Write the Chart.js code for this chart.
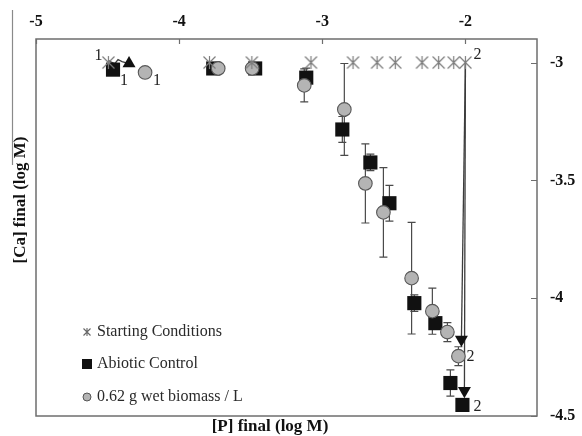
<!DOCTYPE html>
<html>
<head>
<meta charset="utf-8">
<script src="https://cdn.jsdelivr.net/npm/chart.js@4/dist/chart.umd.min.js"></script>
<style>
  html, body { margin: 0; padding: 0; background: #fff; }
  #wrap { width: 582px; height: 436px; position: relative; }
</style>
</head>
<body>
<div id="wrap"><canvas id="c" width="582" height="436"></canvas></div>
<script>
// ---- data: log10 concentrations (mol/L) ----
const startP  = [-4.494, -3.788, -3.492, -3.079, -2.785, -2.617, -2.490, -2.303, -2.187, -2.082, -2.000];
const startCa = [-3.000, -3.000, -3.000, -3.000, -3.000, -3.000, -3.000, -3.000, -3.000, -3.000, -3.000];

const abioticP   = [-4.462, -3.762, -3.469, -3.112, -2.860, -2.664, -2.531, -2.357, -2.210, -2.105, -2.021];
const abioticCa  = [-3.030, -3.025, -3.025, -3.064, -3.284, -3.424, -3.597, -4.021, -4.106, -4.360, -4.453];
const abioticErr = [0, 0, 0, 0.040, 0.055, 0.035, 0.076, 0.035, 0, 0.056, 0];

const bioP   = [-4.238, -3.727, -3.490, -3.126, -2.846, -2.699, -2.573, -2.376, -2.231, -2.126, -2.049];
const bioCa  = [-3.042, -3.025, -3.025, -3.097, -3.199, -3.513, -3.636, -3.915, -4.055, -4.144, -4.246];
const bioErr = [0, 0, 0, 0.070, 0.195, 0.168, 0.190, 0.237, 0.098, 0.040, 0.040];

// trajectories from a starting condition to its end state
const path1P  = [-4.494, -4.483, -4.448, -4.427, -4.399, -4.350];
const path1Ca = [-2.990, -2.996, -3.004, -2.987, -2.996, -3.004];
const path2P  = [-2.000, -2.028];
const path2Ca = [-3.000, -4.175];
const path3P  = [-2.000, -2.007];
const path3Ca = [-3.000, -4.393];

const xTicks = [-5, -4, -3, -2];
const yTicks = [-3, -3.5, -4, -4.5];
const seriesNames = ['Starting Conditions', 'Abiotic Control', '0.62 g wet biomass / L'];
const xTitle = '[P] final (log M)';
const yTitle = '[Ca] final (log M)';

// experiment numbers written next to selected points
const pointNotes = [
  { set: 'start',   i: 0,  text: '1', dx: -10, dy: -7 },
  { set: 'abiotic', i: 0,  text: '1', dx: 11,  dy: 11 },
  { set: 'bio',     i: 0,  text: '1', dx: 12,  dy: 8 },
  { set: 'start',   i: 10, text: '2', dx: 12,  dy: -8 },
  { set: 'bio',     i: 10, text: '2', dx: 12,  dy: 1 },
  { set: 'abiotic', i: 10, text: '2', dx: 15,  dy: 2 }
];

const zip = (xs, ys) => xs.map((v, i) => ({ x: v, y: ys[i] }));
const SERIF = '"Liberation Serif", "Times New Roman", serif';

// six-armed asterisk marker
function makeAsterisk(size, color, lw) {
  const cv = document.createElement('canvas');
  cv.width = size; cv.height = size;
  const g = cv.getContext('2d');
  g.strokeStyle = color; g.lineWidth = lw; g.lineCap = 'butt';
  const m = size / 2, r = size / 2 - 1.5;
  g.beginPath();
  g.moveTo(m - r, m - r); g.lineTo(m + r, m + r);
  g.moveTo(m + r, m - r); g.lineTo(m - r, m + r);
  g.moveTo(m, m - r - 0.5); g.lineTo(m, m + r + 0.5);
  g.stroke();
  return cv;
}
const asterisk = makeAsterisk(15, '#7c7c7c', 1.2);

function pathDataset(P, C, headRotation) {
  return {
    label: '',
    data: zip(P, C),
    showLine: true,
    borderColor: '#3c3c3c',
    borderWidth: 1.3,
    tension: 0,
    pointStyle: 'triangle',
    pointRotation: headRotation,
    pointRadius: P.map((_, i) => (i === P.length - 1 ? 7.5 : 0)),
    pointBackgroundColor: '#111',
    pointBorderColor: '#111',
    pointBorderWidth: 0
  };
}

const errorBars = {
  id: 'errorBars',
  beforeDatasetsDraw(chart) {
    const { ctx, scales: { x, y } } = chart;
    ctx.save();
    ctx.strokeStyle = '#4a4a4a';
    ctx.lineWidth = 1.2;
    const draw = (P, C, E) => {
      P.forEach((p, i) => {
        const e = E[i];
        if (!e) return;
        const px = x.getPixelForValue(p);
        const y1 = y.getPixelForValue(C[i] + e);
        const y2 = y.getPixelForValue(C[i] - e);
        ctx.beginPath();
        ctx.moveTo(px, y1); ctx.lineTo(px, y2);
        ctx.moveTo(px - 4, y1); ctx.lineTo(px + 4, y1);
        ctx.moveTo(px - 4, y2); ctx.lineTo(px + 4, y2);
        ctx.stroke();
      });
    };
    draw(abioticP, abioticCa, abioticErr);
    draw(bioP, bioCa, bioErr);
    ctx.restore();
  }
};

const frameAndText = {
  id: 'frameAndText',
  afterDraw(chart) {
    const { ctx, chartArea: a, scales: { x, y } } = chart;
    ctx.save();
    // plot frame
    ctx.strokeStyle = '#6e6e6e';
    ctx.lineWidth = 1.5;
    ctx.strokeRect(a.left, a.top, a.right - a.left, a.bottom - a.top);
    // inward tick marks on top and right
    ctx.lineWidth = 1.2;
    ctx.beginPath();
    xTicks.forEach(v => {
      const px = Math.round(x.getPixelForValue(v)) + 0.5;
      ctx.moveTo(px, a.top); ctx.lineTo(px, a.top + 5);
    });
    yTicks.forEach(v => {
      const py = Math.round(y.getPixelForValue(v)) + 0.5;
      ctx.moveTo(a.right, py); ctx.lineTo(a.right - 6, py);
    });
    ctx.stroke();
    // outer left rule
    ctx.strokeStyle = '#8a8a8a';
    ctx.lineWidth = 1.2;
    ctx.beginPath();
    ctx.moveTo(12.5, 10); ctx.lineTo(12.5, 165);
    ctx.stroke();

    // axis titles
    ctx.fillStyle = '#111';
    ctx.font = 'bold 17px ' + SERIF;
    ctx.textAlign = 'center';
    ctx.textBaseline = 'middle';
    ctx.fillText(xTitle, 270, 427);
    ctx.save();
    ctx.translate(21, 200);
    ctx.rotate(-Math.PI / 2);
    ctx.fillText(yTitle, 0, 0);
    ctx.restore();

    // point numbers
    ctx.font = '16px ' + SERIF;
    ctx.fillStyle = '#222';
    const sets = {
      start: [startP, startCa],
      abiotic: [abioticP, abioticCa],
      bio: [bioP, bioCa]
    };
    pointNotes.forEach(n => {
      const [P, C] = sets[n.set];
      const px = x.getPixelForValue(P[n.i]);
      const py = y.getPixelForValue(C[n.i]);
      ctx.fillText(n.text, px + n.dx, py + n.dy);
    });

    // legend
    ctx.textAlign = 'left';
    ctx.fillStyle = '#2a2a2a';
    const lx = 87, tx = 97, rows = [332, 364, 397];
    ctx.fillText(seriesNames[0], tx, rows[0]);
    ctx.fillText(seriesNames[1], tx, rows[1]);
    ctx.fillText(seriesNames[2], tx, rows[2]);
    ctx.drawImage(makeAsterisk(10, '#666', 1.1), lx - 5, rows[0] - 5);
    ctx.fillStyle = '#111';
    ctx.fillRect(lx - 5, rows[1] - 5, 10, 10);
    ctx.beginPath();
    ctx.arc(lx, rows[2], 4, 0, Math.PI * 2);
    ctx.fillStyle = '#b4b4b4';
    ctx.fill();
    ctx.strokeStyle = '#555';
    ctx.lineWidth = 1;
    ctx.stroke();
    ctx.restore();
  }
};

new Chart(document.getElementById('c'), {
  type: 'scatter',
  data: {
    datasets: [
      {
        label: seriesNames[0],
        data: zip(startP, startCa),
        pointStyle: asterisk,
        pointRadius: 7
      },
      {
        label: seriesNames[2],
        data: zip(bioP, bioCa),
        pointStyle: 'circle',
        pointRadius: 6.8,
        backgroundColor: '#b4b4b4',
        borderColor: '#575757',
        borderWidth: 1.1
      },
      {
        label: seriesNames[1],
        data: zip(abioticP, abioticCa),
        pointStyle: 'rect',
        pointRadius: 10,
        backgroundColor: '#111',
        borderColor: '#111',
        borderWidth: 0
      },
      pathDataset(path1P, path1Ca, 0),
      pathDataset(path2P, path2Ca, 180),
      pathDataset(path3P, path3Ca, 180)
    ]
  },
  options: {
    responsive: false,
    animation: false,
    events: [],
    layout: { padding: { left: 36, right: 0, top: 0, bottom: 20 } },
    plugins: { legend: { display: false }, tooltip: { enabled: false } },
    scales: {
      x: {
        type: 'linear',
        position: 'top',
        min: -5,
        max: -1.5,
        afterFit(s) { s.height = 39; },
        afterBuildTicks(s) { s.ticks = xTicks.map(v => ({ value: v })); },
        grid: { display: false },
        border: { display: false },
        ticks: {
          padding: 0,
          color: '#111',
          font: { family: SERIF, size: 16, weight: 'bold' },
          callback: v => String(v)
        }
      },
      y: {
        type: 'linear',
        position: 'right',
        min: -4.5,
        max: -2.9,
        afterFit(s) { s.width = 45; },
        afterBuildTicks(s) { s.ticks = yTicks.map(v => ({ value: v })); },
        grid: { display: false },
        border: { display: false },
        ticks: {
          padding: 5,
          color: '#111',
          font: { family: SERIF, size: 16, weight: 'bold' },
          callback: v => String(v)
        }
      }
    }
  },
  plugins: [errorBars, frameAndText]
});
</script>
</body>
</html>
